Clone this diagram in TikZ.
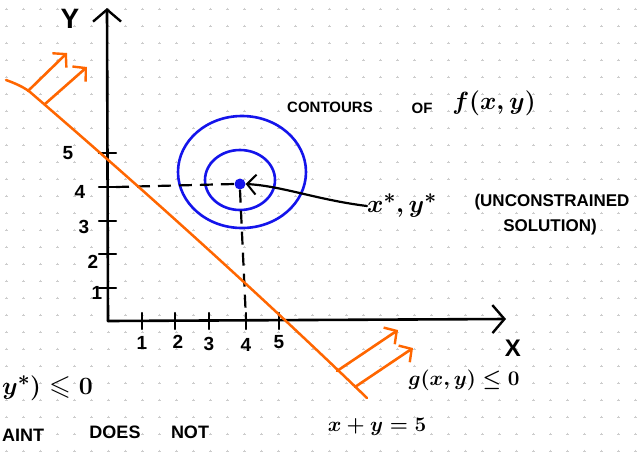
\documentclass[tikz,border=0pt]{standalone}
\usepackage{fontspec}
\usepackage{amssymb}
\setmainfont{Liberation Sans}
\usetikzlibrary{arrows.meta}
\definecolor{orng}{RGB}{255,102,0}
\definecolor{blu}{RGB}{20,20,235}
\definecolor{dotc}{RGB}{205,205,205}
\begin{document}
\begin{tikzpicture}[x=1pt,y=-1pt,
  lbl/.style={inner sep=0pt,font=\fontsize{#1}{#1}\selectfont\bfseries\boldmath},
  lbl/.default=16,
  axis/.style={line width=2.6pt,line cap=round,-{Straight Barb[length=12pt,width=28pt,line width=2.4pt]}},
  tick/.style={line width=2.2pt,line cap=round},
  orangeline/.style={orng,line width=2.5pt,line cap=round},
  orangearrow/.style={orng,line width=2.6pt,line cap=round,-{Straight Barb[length=9pt,width=20pt,line width=2.4pt]}},
  dashline/.style={line width=2.2pt,dash pattern=on 13pt off 8pt},
  contour/.style={blu,line width=2.6pt}]
\useasboundingbox (0,0) rectangle (641,451);
\fill[white] (0,0) rectangle (641,451);
% dotted grid
\draw[dotc,line width=0.6pt] \foreach \i in {0,...,37} { \foreach \j in {0,...,26} {
  ({6.7+17*\i-1.3},{9+17*\j}) -- ++(2.6,0) ({6.7+17*\i},{9+17*\j-1.3}) -- ++(0,2.6) } };
% axes
\coordinate (O) at (108,321);
\coordinate (ytop) at (107,8);
\coordinate (xend) at (506,319);
\draw[axis] (O) -- (ytop);
\draw[axis] (O) -- (xend);
\node[lbl=28] (Ylab) at (70,19) {Y};
\node[lbl=24] (Xlab) at (513,348) {X};
% y ticks
\foreach \y/\lx/\ly/\t in {153/68/153/5, 187/80/192/4, 221/84/227/3, 254/93/262/2, 288/97/293/1} {
  \coordinate (yt\t a) at (99,\y); \coordinate (yt\t b) at (116,\y);
  \draw[tick] (yt\t a) -- (yt\t b);
  \node[lbl=19] (yl\t) at (\lx,\ly) {\t};
}
% x ticks
\foreach \x/\lx/\ly/\t in {142/142/343/1, 175/178/342/2, 209/209/344/3, 246/246/345/4, 279/279/342/5} {
  \coordinate (xt\t a) at (\x,313); \coordinate (xt\t b) at (\x,329);
  \draw[tick] (xt\t a) -- (xt\t b);
  \node[lbl=19] (xl\t) at (\lx,\ly) {\t};
}
% point and contours
\node[circle,fill=blu,inner sep=0pt,minimum size=11pt] (pt) at (240,184) {};
\draw[contour] (240,180) ellipse [x radius=35,y radius=30];
\draw[contour] (242,172) ellipse [x radius=64,y radius=56];
% dashed projections
\coordinate (hd0) at (116,187);
\coordinate (vd1) at (246,320);
\draw[dashline] (hd0) -- (pt.west);
\draw[dashline] (pt.south) -- (vd1);
% constraint line
\draw[orangeline] (6,80) .. controls (20,85) and (26,89) .. (30,92)
  .. controls (130,178) and (250,285) .. (367,398);
\coordinate (a1s) at (28,91);  \coordinate (a1e) at (67,53);
\coordinate (a2s) at (45,104); \coordinate (a2e) at (87,67);
\coordinate (b1s) at (337,371); \coordinate (b1e) at (398,330);
\coordinate (b2s) at (355,387); \coordinate (b2e) at (413,348);
\draw[orangearrow] (a1s) -- (a1e);
\draw[orangearrow] (a2s) -- (a2e);
\draw[orangearrow] (b1s) -- (b1e);
\draw[orangearrow] (b2s) -- (b2e);
% labels
\node[lbl=15] (cont) at (330,107) {CONTOURS};
\node[lbl=15] (of) at (422,108) {OF};
\node[lbl=26] (fxy) at (494,103) {$f(x,y)$};
\node[lbl=30] (xs) at (402,206) {$x^*,y^*$};
\node[lbl=17] (unc) at (552,202) {(UNCONSTRAINED};
\node[lbl=17] (sol) at (550,227) {SOLUTION)};
\draw[line width=2.2pt,line cap=round,-{Straight Barb[length=9pt,width=20pt,line width=2pt]}]
  (xs.west) .. controls (318,200) and (282,186) .. (pt.east);
\node[lbl=20] (g) at (464,380) {$g(x,y)\leq 0$};
\node[lbl=22] (line) at (377,427) {$x+y=5$};
\node[lbl=28,anchor=west] (gstar) at (2,388) {$y^*)\leqslant 0$};
\node[lbl=18,anchor=west] (aint) at (2,435) {AINT};
\node[lbl=18] (does) at (115,432) {DOES};
\node[lbl=18] (not) at (190,432) {NOT};
\end{tikzpicture}
\end{document}
